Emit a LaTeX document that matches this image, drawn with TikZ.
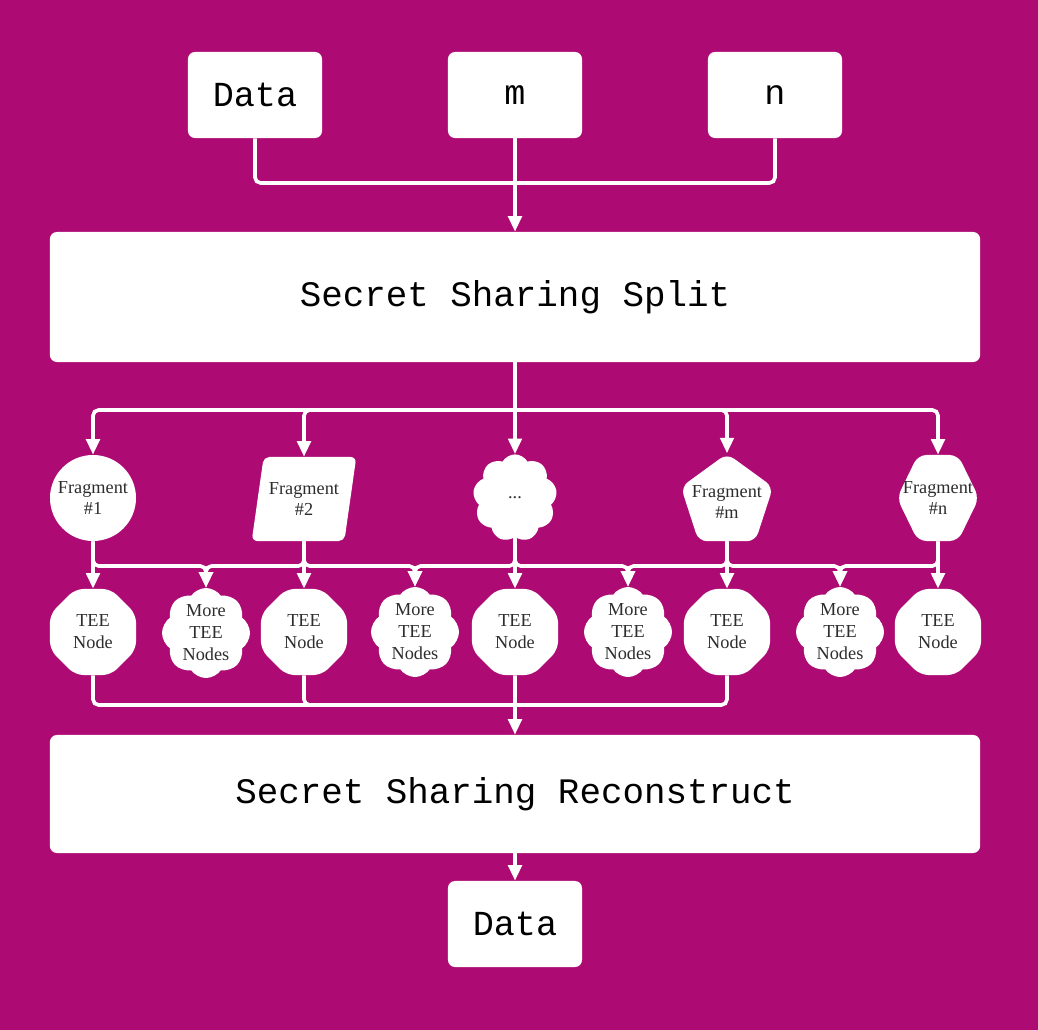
\documentclass[tikz,border=0pt]{standalone}
\usepackage{fontspec}
\setmainfont{Liberation Serif}
\setmonofont{Liberation Mono}
\usetikzlibrary{shapes.geometric,shapes.symbols,arrows.meta}
\definecolor{plum}{RGB}{174,10,116}
\definecolor{labelgrey}{RGB}{45,45,45}
\tikzset{
  inbox/.style={fill=white, rounded corners=5pt, minimum width=3.35cm, minimum height=2.15cm,
    font=\ttfamily\fontsize{25}{30}\selectfont},
  stage/.style={fill=white, rounded corners=5pt, minimum width=23.25cm,
    font=\ttfamily\fontsize{25.5}{30}\selectfont},
  fragment/.style={fill=white, text=labelgrey, align=center, inner sep=0pt,
    font=\fontsize{13}{15.6}\selectfont},
  teenode/.style={fragment, regular polygon, regular polygon sides=8, minimum size=2.33cm, rounded corners=6pt},
  morenodes/.style={fragment, cloud, cloud puffs=8, cloud puff arc=110, cloud ignores aspect,
    minimum width=2.2cm, minimum height=2.25cm},
  wire/.style={draw=white, line width=2.6pt, rounded corners=4pt},
  arr/.style={wire, -{Triangle[width=9.5pt,length=11pt]}}
}
\begin{document}
\begin{tikzpicture}[x=0.025cm, y=-0.025cm]
\fill [plum] (0,0) rectangle (1038,1030);
\node (dataIn) at (255,95) [inbox] {Data};
\node (mIn) at (515,95) [inbox] {m};
\node (nIn) at (775,95) [inbox] {n};
\node (split) at (515,297) [stage, minimum height=3.25cm] {Secret Sharing Split};
\node (frag1) at (93,498) [fragment, circle, minimum size=2.15cm] {Fragment\\\#1};
\node (frag2) at (304,499) [fragment, trapezium, trapezium stretches=true, trapezium left angle=73,
  trapezium right angle=107, minimum width=2.63cm, minimum height=2.1cm, rounded corners=4pt] {Fragment\\\#2};
\node (fragdots) at (515,498) [fragment, cloud, cloud puffs=9, cloud puff arc=120, cloud ignores aspect,
  minimum width=2.1cm, minimum height=2.18cm] {...};
\node (fragm) at (727,502) [fragment, regular polygon, regular polygon sides=5, minimum size=2.42cm,
  inner sep=-7pt, rounded corners=6pt] {Fragment\\\#m};
\node (fragn) at (938,498) [fragment, signal, signal to=east and west, signal pointer angle=128,
  inner xsep=-11pt, minimum width=2.05cm, minimum height=2.15cm, rounded corners=6pt] {Fragment\\\#n};
\coordinate (bus) at (0,566);
\node (tee1) at (93,632) [teenode] {TEE\\Node};
\node (more1) at (206,633) [morenodes] {More\\TEE\\Nodes};
\node (tee2) at (304,632) [teenode] {TEE\\Node};
\node (more2) at (415,632) [morenodes] {More\\TEE\\Nodes};
\node (tee3) at (515,632) [teenode] {TEE\\Node};
\node (more3) at (628,632) [morenodes] {More\\TEE\\Nodes};
\node (tee4) at (727,632) [teenode] {TEE\\Node};
\node (more4) at (840,632) [morenodes] {More\\TEE\\Nodes};
\node (tee5) at (938,632) [teenode] {TEE\\Node};
\node (recon) at (515,794) [stage, minimum height=2.95cm] {Secret Sharing Reconstruct};
\node (dataOut) at (515,924) [inbox] {Data};
\coordinate (join) at (515,183);
\draw [wire] (dataIn) |- (join);
\draw [wire] (nIn) |- (join);
\draw [arr] (mIn) -- (split);
\coordinate (fan) at (515,410);
\draw [wire] (split) -- (fan);
\draw [arr] (fan) -| (frag1);
\draw [arr] (fan) -| (frag2);
\draw [arr] (fan) -- (fragdots);
\draw [arr] (fan) -| (fragm);
\draw [arr] (fan) -| (fragn);
\draw [arr] (frag1) -- (tee1);
\draw [arr] (frag2) -- (tee2);
\draw [arr] (fragdots) -- (tee3);
\draw [arr] (fragm) -- (tee4);
\draw [arr] (fragn) -- (tee5);
\draw [arr] (frag1) |- (more1 |- bus) -- (more1);
\draw [arr] (frag2) |- (more1 |- bus) -- (more1);
\draw [arr] (frag2) |- (more2 |- bus) -- (more2);
\draw [arr] (fragdots) |- (more2 |- bus) -- (more2);
\draw [arr] (fragdots) |- (more3 |- bus) -- (more3);
\draw [arr] (fragm) |- (more3 |- bus) -- (more3);
\draw [arr] (fragm) |- (more4 |- bus) -- (more4);
\draw [arr] (fragn) |- (more4 |- bus) -- (more4);
\coordinate (merge) at (515,705);
\draw [wire] (tee1) |- (merge);
\draw [wire] (tee2) |- (merge);
\draw [wire] (tee4) |- (merge);
\draw [arr] (tee3) -- (recon);
\draw [arr] (recon) -- (dataOut);
\end{tikzpicture}
\end{document}
